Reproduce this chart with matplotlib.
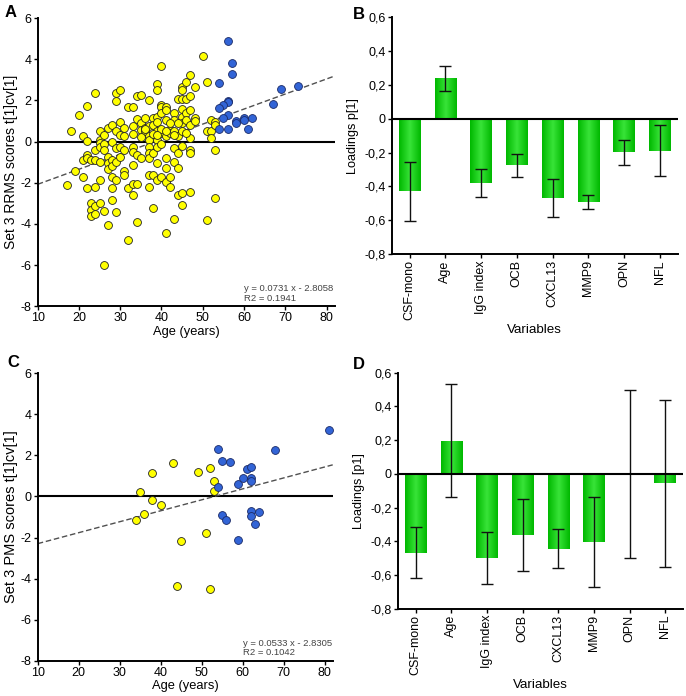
import numpy as np
import matplotlib
matplotlib.use('Agg')
import matplotlib.pyplot as plt
from matplotlib.colors import LinearSegmentedColormap

plt.rcParams['font.family'] = ['Liberation Sans', 'DejaVu Sans']
plt.rcParams['axes.unicode_minus'] = False

# panel A - RRMS scores vs age
rrms_yellow_age = [17, 18, 19, 20, 21, 21, 21, 22, 22, 22, 22, 22, 23, 23, 23, 23,
                   24, 24, 24, 24, 24, 24, 25, 25, 25, 25, 25, 25, 25, 26, 26, 26,
                   26, 26, 27, 27, 27, 27, 27, 28, 28, 28, 28, 28, 28, 28, 29, 29,
                   29, 29, 29, 29, 29, 30, 30, 30, 30, 30, 31, 31, 31, 31, 31, 32,
                   32, 32, 33, 33, 33, 33, 33, 33, 33, 33, 34, 34, 34, 34, 34, 35,
                   35, 35, 35, 36, 36, 36, 37, 37, 37, 37, 37, 37, 37, 37, 37, 38,
                   38, 38, 38, 38, 39, 39, 39, 39, 39, 39, 39, 39, 39, 40, 40, 40,
                   40, 40, 40, 40, 41, 41, 41, 41, 41, 41, 41, 41, 42, 42, 42, 42,
                   43, 43, 43, 43, 43, 43, 44, 44, 44, 44, 44, 45, 45, 45, 45, 45,
                   45, 45, 45, 45, 45, 46, 46, 46, 46, 47, 47, 47, 47, 47, 47, 47,
                   47, 48, 48, 48, 50, 51, 51, 51, 52, 52, 52, 53, 53, 53, 53,
                   36, 38, 40, 42, 43, 44, 35, 39, 41, 46]
rrms_yellow_score = [-2.1, 0.5, -1.45, 1.3, 0.25, -0.9, -1.7, 1.75, 0.05, -0.65, -0.8, -2.25,
                     -0.9, -3.0, -3.3, -3.6, 2.35, -0.4, -0.9, -2.2, -3.15, -3.5, 0.5, 0.1,
                     -0.05, -0.25, -1.0, -1.85, -3.0, 0.3, -0.1, -0.4, -3.35, -6.0, 0.65, -0.75,
                     -1.05, -1.35, -4.05, 0.8, 0.0, -0.9, -1.2, -1.7, -2.25, -2.85, 2.35, 1.95,
                     0.5, -0.3, -1.0, -1.85, -3.4, 2.5, 0.95, 0.3, -0.25, -0.75, 0.65, 0.25,
                     -0.4, -1.45, -1.6, 1.7, -2.25, -4.8, 1.7, 0.75, 0.35, -0.25, -0.5, -1.15,
                     -2.05, -2.6, 2.2, 1.1, -0.65, -2.05, -3.9, 2.25, 0.9, 0.55, -0.8, 1.15,
                     0.65, 0.5, 2.0, 0.75, 0.25, 0.1, -0.25, -0.55, -0.8, -1.6, -2.2, 1.15,
                     0.8, -0.55, -1.6, -3.25, 2.8, 2.5, 1.2, 0.95, 0.5, 0.1, -0.25, -1.05,
                     -1.85, 3.65, 1.8, 1.7, 1.4, 0.4, -0.1, -1.7, 1.7, 1.55, 1.05, 0.25,
                     -0.8, -1.3, -1.95, -4.45, 0.55, 0.4, -1.7, -2.2, 1.4, 1.05, 0.5, -0.3,
                     -1.0, -3.75, 2.05, 0.25, -0.55, -1.3, -2.6, 2.65, 2.5, 2.05, 1.6, 1.2,
                     0.9, 0.5, -0.2, -2.5, -3.1, 2.9, 2.05, 1.4, 1.05, 3.25, 2.2, 1.55,
                     0.8, 0.15, -0.4, -0.55, -2.45, 2.65, 1.15, 1.0, 4.15, 2.9, 0.5, -3.8,
                     1.05, 0.5, 0.15, 0.95, 0.8, -0.4, -2.75,
                     0.6, 0.35, 0.6, 0.9, 0.3, 0.9, 0.2, 0.3, 0.5, 0.4]
rrms_blue_age = [56, 57, 57, 54, 56, 56, 55, 54, 56, 55, 58, 58, 60, 60, 62, 54, 56, 61, 67, 69, 73]
rrms_blue_score = [4.9, 3.8, 3.3, 2.85, 1.95, 1.9, 1.8, 1.65, 1.3, 1.15, 1.0, 0.9, 1.15, 1.05,
                   1.15, 0.6, 0.6, 0.6, 1.85, 2.55, 2.7]
rrms_fit = (0.0731, -2.8058)
rrms_text = 'y = 0.0731 x - 2.8058\nR2 = 0.1941'

# panel C - PMS scores vs age
pms_yellow_age = [34, 35, 36, 38, 38, 40, 43, 44, 45, 49, 51, 52, 52, 53, 53]
pms_yellow_score = [-1.17, 0.21, -0.84, 1.15, -0.16, -0.42, 1.64, -4.37, -2.18, 1.18, -1.8,
                    1.38, -4.5, 0.75, 0.28]
pms_blue_age = [54, 54, 55, 55, 56, 57, 59, 59, 60, 61, 62, 62, 62, 62, 62, 63, 64, 68, 81]
pms_blue_score = [2.29, 0.45, 1.75, -0.9, -1.15, 1.7, 0.62, -2.13, 0.9, 1.36, 1.43, 0.9, 0.76,
                  -0.7, -0.95, -1.33, -0.75, 2.24, 3.26]
pms_fit = (0.0533, -2.8305)
pms_text = 'y = 0.0533 x - 2.8305\nR2 = 0.1042'

# panels B and D - loadings
variables = ['CSF-mono', 'Age', 'IgG index', 'OCB', 'CXCL13', 'MMP9', 'OPN', 'NFL']
rrms_loadings = [-0.43, 0.24, -0.38, -0.276, -0.47, -0.49, -0.199, -0.19]
rrms_err = [0.175, 0.075, 0.082, 0.068, 0.113, 0.042, 0.075, 0.151]
pms_loadings = [-0.467, 0.198, -0.498, -0.364, -0.443, -0.405, -0.003, -0.055]
pms_err = [0.152, 0.337, 0.155, 0.215, 0.116, 0.267, 0.498, 0.495]

YELLOW = '#ffff00'
BLUE = '#3264d6'
FS = 9

green_cmap = LinearSegmentedColormap.from_list('bar', ['#00b800', '#38e438', '#00b800'])


def comma(v, _=None):
    if abs(v) < 1e-9:
        return '0'
    return f'{v:.1f}'.replace('.', ',')


def style_axes(ax):
    for s in ['top', 'right']:
        ax.spines[s].set_visible(False)
    for s in ['left', 'bottom']:
        ax.spines[s].set_linewidth(1.4)
    ax.tick_params(direction='out', length=3, width=1, labelsize=FS, pad=1.5)


def scatter_panel(ax, ya, ys, ba, bs, fit, text, ylabel, ylsize):
    ax.axhline(0, color='black', lw=1.5, zorder=1)
    xs = np.array([10, 82])
    ax.plot(xs, fit[0] * xs + fit[1], color='#505050', lw=1.0, ls=(0, (4, 2)), zorder=2)
    ax.scatter(ya, ys, s=32, c=YELLOW, edgecolors='#222222', linewidths=0.6, zorder=3)
    ax.scatter(ba, bs, s=32, c=BLUE, edgecolors='#1a2a66', linewidths=0.6, zorder=3)
    ax.set_xlim(10, 82)
    ax.set_ylim(-8, 6)
    ax.set_xticks(range(10, 81, 10))
    ax.set_yticks(range(-8, 7, 2))
    ax.set_xlabel('Age (years)', fontsize=9.3, labelpad=1)
    ax.set_ylabel(ylabel, fontsize=ylsize, labelpad=2)
    ax.text(0.695, 0.012, text, transform=ax.transAxes, fontsize=6.8, color='#444444',
            linespacing=1.1, va='bottom', ha='left')
    style_axes(ax)


def bar_panel(ax, vals, errs, ylabel):
    x = np.arange(len(variables))
    bars = ax.bar(x, vals, width=0.6, color='#10c010', zorder=2)
    grad = np.linspace(0, 1, 64).reshape(1, -1)
    for b in bars:
        x0, y0 = b.get_x(), b.get_y()
        w, h = b.get_width(), b.get_height()
        im = ax.imshow(grad, cmap=green_cmap, extent=[x0, x0 + w, y0, y0 + h],
                       aspect='auto', zorder=2)
        im.set_clip_path(b)
    ax.errorbar(x, vals, yerr=errs, fmt='none', ecolor='#111111', elinewidth=1.0,
                capsize=4.2, capthick=1.0, zorder=3)
    ax.axhline(0, color='black', lw=1.5, zorder=4)
    ax.set_xlim(-0.5, 7.5)
    ax.set_ylim(-0.8, 0.6)
    ax.set_yticks(np.arange(-0.8, 0.61, 0.2))
    ax.yaxis.set_major_formatter(comma)
    ax.set_xticks(x)
    ax.set_xticklabels(variables, rotation=90)
    ax.set_xlabel('Variables', fontsize=9.6, labelpad=3)
    ax.set_ylabel(ylabel, fontsize=9.1, labelpad=4)
    style_axes(ax)


fig = plt.figure(figsize=(6.86, 6.96), dpi=100)

axA = fig.add_axes([0.055, 0.560, 0.433, 0.414])
scatter_panel(axA, rrms_yellow_age, rrms_yellow_score, rrms_blue_age, rrms_blue_score,
              rrms_fit, rrms_text, 'Set 3 RRMS scores t[1]cv[1]', 10)

axB = fig.add_axes([0.571, 0.635, 0.417, 0.340])
bar_panel(axB, rrms_loadings, rrms_err, 'Loadings p[1]')

axC = fig.add_axes([0.055, 0.0507, 0.430, 0.413])
scatter_panel(axC, pms_yellow_age, pms_yellow_score, pms_blue_age, pms_blue_score,
              pms_fit, pms_text, 'Set 3 PMS scores t[1]cv[1]', 10.5)

axD = fig.add_axes([0.580, 0.1254, 0.4156, 0.339])
bar_panel(axD, pms_loadings, pms_err, 'Loadings [p1]')

for lbl, (px, py) in zip('ABCD', [(5, 5), (353, 7), (7, 355), (353, 357)]):
    fig.text(px / 686, 1 - py / 696, lbl, fontsize=12, fontweight='bold', va='top', ha='left')

fig.savefig('out.png', dpi=100)
